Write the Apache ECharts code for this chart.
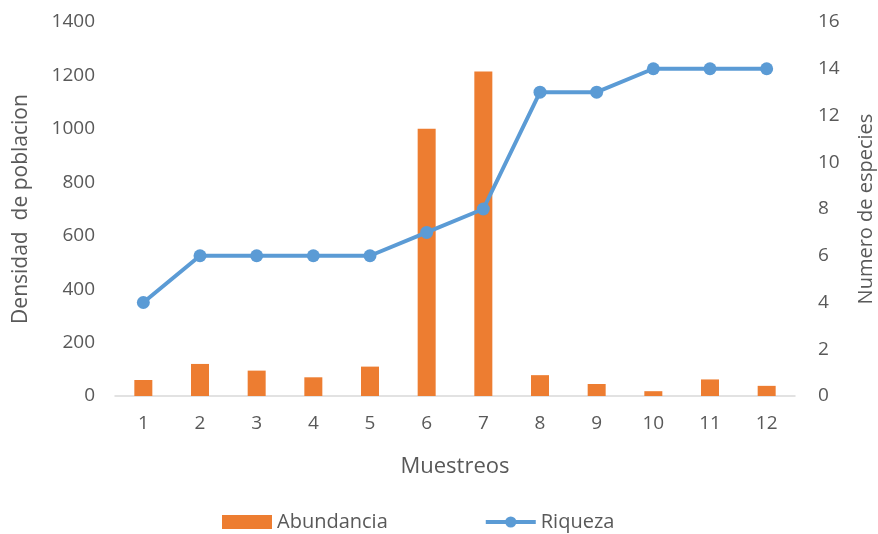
<!DOCTYPE html>
<html><head><meta charset="utf-8">
<script src="https://cdn.jsdelivr.net/npm/echarts@6/dist/echarts.min.js"></script>
<style>html,body{margin:0;padding:0;background:#fff}#c{width:878px;height:534px}</style>
</head><body><div id="c"></div>
<script>
const categories = ['1','2','3','4','5','6','7','8','9','10','11','12'];
const abundancia = [60, 120, 95, 70, 110, 1000, 1215, 78, 45, 18, 62, 38];
const riqueza = [4, 6, 6, 6, 6, 7, 8, 13, 13, 14, 14, 14];
const FONT = 'Open Sans';
const chart = echarts.init(document.getElementById('c'));
chart.setOption({
  animation: false,
  textStyle: {fontFamily: FONT},
  grid: {left: 115, right: 83, top: 22, bottom: 138, outerBoundsMode: 'none', containLabel: false},
  legend: {
    top: 507, left: 217, itemGap: 96, itemWidth: 50, itemHeight: 14,
    textStyle: {fontSize: 20, color: '#595959', fontFamily: FONT},
    data: [{name: 'Abundancia', icon: 'rect'}, {name: 'Riqueza', lineStyle: {width: 4}}]
  },
  xAxis: {
    type: 'category', data: categories,
    name: 'Muestreos', nameLocation: 'middle', nameGap: 60,
    nameTextStyle: {fontSize: 22, color: '#595959'},
    axisLine: {lineStyle: {color: '#d9d9d9', width: 1.5}},
    axisTick: {show: false},
    axisLabel: {fontSize: 19, color: '#595959', margin: 18}
  },
  yAxis: [{
    type: 'value', min: 0, max: 1400, interval: 200,
    name: 'Densidad  de poblacion', nameLocation: 'middle', nameGap: 83,
    nameTextStyle: {fontSize: 21, color: '#595959'},
    splitLine: {show: false}, axisLine: {show: false}, axisTick: {show: false},
    axisLabel: {fontSize: 19, color: '#595959', margin: 20, formatter: v => String(v)}
  }, {
    type: 'value', min: 0, max: 16, interval: 2,
    name: 'Numero de especies', nameLocation: 'middle', nameGap: 61, nameRotate: 90,
    nameMoveOverlap: false,
    nameTextStyle: {fontSize: 20, color: '#595959'},
    splitLine: {show: false}, axisLine: {show: false}, axisTick: {show: false},
    axisLabel: {fontSize: 19, color: '#595959', margin: 23}
  }],
  series: [{
    name: 'Abundancia', type: 'bar', data: abundancia, barWidth: 18,
    itemStyle: {color: '#ed7d31'}
  }, {
    name: 'Riqueza', type: 'line', yAxisIndex: 1, data: riqueza,
    symbol: 'circle', symbolSize: 13,
    lineStyle: {color: '#5b9bd5', width: 4},
    itemStyle: {color: '#5b9bd5'}
  }]
});
</script></body></html>
